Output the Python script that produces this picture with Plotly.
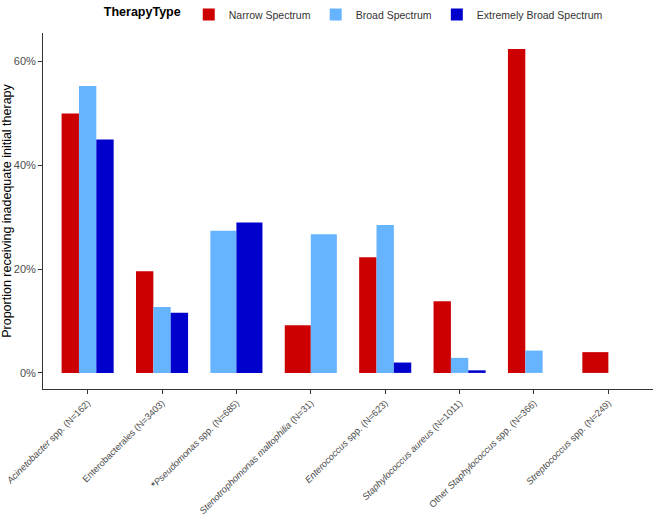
import plotly.graph_objects as go

categories = [
    "<i>Acinetobacter</i> spp. (N=162)",
    "Enterobacterales (N=3403)",
    "<b>*</b><i>Pseudomonas</i> spp. (N=685)",
    "<i>Stenotrophomonas maltophilia</i> (N=31)",
    "<i>Enterococcus</i> spp. (N=623)",
    "<i>Staphylococcus aureus</i> (N=1011)",
    "Other <i>Staphylococcus</i> spp. (N=366)",
    "<i>Streptococcus</i> spp. (N=249)",
]
series_names = ["Narrow Spectrum", "Broad Spectrum", "Extremely Broad Spectrum"]
narrow = [0.500, 0.196, None, 0.092, 0.223, 0.138, 0.624, 0.040]
broad = [0.553, 0.127, 0.274, 0.267, 0.285, 0.029, 0.043, 0.0]
extreme = [0.450, 0.116, 0.290, None, 0.020, 0.005, 0.0, None]
colors = ["#CC0000", "#66B3FF", "#0000CC"]

series = [narrow, broad, extreme]
group_width = 0.7
FONT = "Liberation Sans, Arial, sans-serif"

fig = go.Figure()
offsets = [[None] * len(categories) for _ in series]
widths = [[None] * len(categories) for _ in series]
for i in range(len(categories)):
    present = [s for s in range(len(series)) if series[s][i] is not None]
    n = len(present)
    w = group_width / n
    for k, s in enumerate(present):
        offsets[s][i] = -group_width / 2 + k * w
        widths[s][i] = w

idx = list(range(len(categories)))
for s, (name, vals, col) in enumerate(zip(series_names, series, colors)):
    xs = [i for i in idx if vals[i] is not None]
    fig.add_trace(go.Bar(
        x=xs,
        y=[vals[i] for i in xs],
        offset=[offsets[s][i] for i in xs],
        width=[widths[s][i] for i in xs],
        name=name,
        marker=dict(color=col, line=dict(width=0)),
    ))

fig.update_layout(
    width=657, height=518,
    barmode="overlay",
    plot_bgcolor="white", paper_bgcolor="white",
    margin=dict(l=43, r=4, t=33, b=129, autoexpand=False),
    font=dict(family=FONT, size=11, color="#4D4D4D"),
    legend=dict(
        orientation="h", x=0.155, xanchor="left", y=1.0, yanchor="top",
        yref="container", xref="container",
        title=dict(text="<b>TherapyType</b>",
                   font=dict(size=12.5, color="black", family=FONT)),
        font=dict(size=10.5, color="#333333", family=FONT),
        itemwidth=30, traceorder="normal", tracegroupgap=0,
    ),
    showlegend=True,
)

fig.update_xaxes(
    tickmode="array", tickvals=idx, ticktext=categories,
    range=[-0.6, 7.6], tickangle=-45, automargin=False,
    ticklabeloverflow="allow",
    showline=True, linecolor="#333333", linewidth=1,
    ticks="outside", ticklen=4, tickcolor="#333333",
    showgrid=False, zeroline=False,
    tickfont=dict(size=9.3, color="#4D4D4D", family=FONT),
)
fig.update_yaxes(
    range=[-0.031, 0.655], tickvals=[0, 0.2, 0.4, 0.6], tickformat=".0%",
    showline=True, linecolor="#333333", linewidth=1, automargin=False,
    ticks="outside", ticklen=4, tickcolor="#333333",
    showgrid=False, zeroline=False,
    title=dict(text="Proportion receiving inadequate initial therapy",
               font=dict(size=12.5, color="black", family=FONT), standoff=6),
    tickfont=dict(size=11, color="#4D4D4D", family=FONT),
)

fig.write_html("out.html")
